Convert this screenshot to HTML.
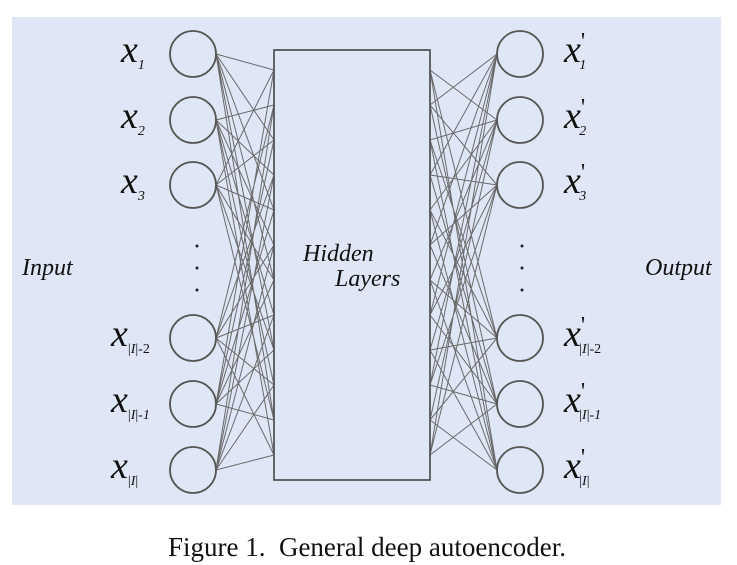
<!DOCTYPE html>
<html><head><meta charset="utf-8"><style>
body{margin:0;width:737px;height:565px;background:#fff;overflow:hidden}
svg{position:absolute;left:0;top:0}
</style></head><body>
<svg width="737" height="565" xmlns="http://www.w3.org/2000/svg" font-family="Liberation Serif, serif">
<rect x="12" y="17" width="709" height="488" fill="#dfe6f5"/>
<g stroke="#6a6a6a" stroke-width="1" fill="none">
<path d="M216 54L274 70M216 54L274 140M216 54L274 210M216 54L274 280M216 54L274 350M216 54L274 420
M216 120L274 105M216 120L274 175M216 120L274 245M216 120L274 315M216 120L274 385M216 120L274 455
M216 185L274 70M216 185L274 140M216 185L274 210M216 185L274 280M216 185L274 350M216 185L274 420
M216 338L274 105M216 338L274 175M216 338L274 245M216 338L274 315M216 338L274 385M216 338L274 455
M216 404L274 70M216 404L274 140M216 404L274 210M216 404L274 280M216 404L274 350M216 404L274 420
M216 470L274 105M216 470L274 175M216 470L274 245M216 470L274 315M216 470L274 385M216 470L274 455"/>
<path d="M497 54L430 105M497 54L430 175M497 54L430 245M497 54L430 315M497 54L430 385M497 54L430 455
M497 120L430 70M497 120L430 140M497 120L430 210M497 120L430 280M497 120L430 350M497 120L430 420
M497 185L430 105M497 185L430 175M497 185L430 245M497 185L430 315M497 185L430 385M497 185L430 455
M497 338L430 70M497 338L430 140M497 338L430 210M497 338L430 280M497 338L430 350M497 338L430 420
M497 404L430 105M497 404L430 175M497 404L430 245M497 404L430 315M497 404L430 385M497 404L430 455
M497 470L430 70M497 470L430 140M497 470L430 210M497 470L430 280M497 470L430 350M497 470L430 420"/>
</g>
<rect x="274" y="50" width="156" height="430" fill="#dfe6f5" stroke="#555" stroke-width="1.8"/>
<g fill="none" stroke="#555" stroke-width="1.8">
<circle cx="193" cy="54" r="23"/><circle cx="193" cy="120" r="23"/><circle cx="193" cy="185" r="23"/>
<circle cx="193" cy="338" r="23"/><circle cx="193" cy="404" r="23"/><circle cx="193" cy="470" r="23"/>
<circle cx="520" cy="54" r="23"/><circle cx="520" cy="120" r="23"/><circle cx="520" cy="185" r="23"/>
<circle cx="520" cy="338" r="23"/><circle cx="520" cy="404" r="23"/><circle cx="520" cy="470" r="23"/>
</g>
<g fill="#222"><circle cx="197" cy="246" r="1.5"/><circle cx="197" cy="268" r="1.5"/><circle cx="197" cy="290" r="1.5"/>
<circle cx="522" cy="246" r="1.5"/><circle cx="522" cy="268" r="1.5"/><circle cx="522" cy="290" r="1.5"/></g>
<g font-style="italic" fill="#111">
<text x="121" y="62" font-size="38">x<tspan font-size="14" dy="7">1</tspan></text>
<text x="121" y="128" font-size="38">x<tspan font-size="14" dy="7">2</tspan></text>
<text x="121" y="193" font-size="38">x<tspan font-size="14" dy="7">3</tspan></text>
<text x="111" y="346" font-size="38">x<tspan font-size="14" dy="7" font-style="normal">|<tspan font-style="italic">I</tspan>|-2</tspan></text>
<text x="111" y="412" font-size="38">x<tspan font-size="14" dy="7" font-style="normal">|<tspan font-style="italic">I</tspan>|-<tspan font-style="italic">1</tspan></tspan></text>
<text x="111" y="478" font-size="38">x<tspan font-size="14" dy="7" font-style="normal">|<tspan font-style="italic">I</tspan>|</tspan></text>
<text x="564" y="62" font-size="38">x<tspan font-size="24" font-style="normal" dy="-13">'</tspan><tspan font-size="14" dx="-6" dy="20">1</tspan></text>
<text x="564" y="128" font-size="38">x<tspan font-size="24" font-style="normal" dy="-13">'</tspan><tspan font-size="14" dx="-6" dy="20">2</tspan></text>
<text x="564" y="193" font-size="38">x<tspan font-size="24" font-style="normal" dy="-13">'</tspan><tspan font-size="14" dx="-6" dy="20">3</tspan></text>
<text x="564" y="346" font-size="38">x<tspan font-size="24" font-style="normal" dy="-13">'</tspan><tspan font-size="14" dx="-6" dy="20" font-style="normal">|<tspan font-style="italic">I</tspan>|-2</tspan></text>
<text x="564" y="412" font-size="38">x<tspan font-size="24" font-style="normal" dy="-13">'</tspan><tspan font-size="14" dx="-6" dy="20" font-style="normal">|<tspan font-style="italic">I</tspan>|-<tspan font-style="italic">1</tspan></tspan></text>
<text x="564" y="478" font-size="38">x<tspan font-size="24" font-style="normal" dy="-13">'</tspan><tspan font-size="14" dx="-6" dy="20" font-style="normal">|<tspan font-style="italic">I</tspan>|</tspan></text>
<text x="22" y="275" font-size="24">Input</text>
<text x="645" y="275" font-size="24">Output</text>
<text x="303" y="261" font-size="24">Hidden</text>
<text x="335" y="286" font-size="24">Layers</text>
</g>
<text x="367" y="556" font-size="27" text-anchor="middle" fill="#111" xml:space="preserve">Figure 1.  General deep autoencoder.</text>
</svg>
</body></html>
